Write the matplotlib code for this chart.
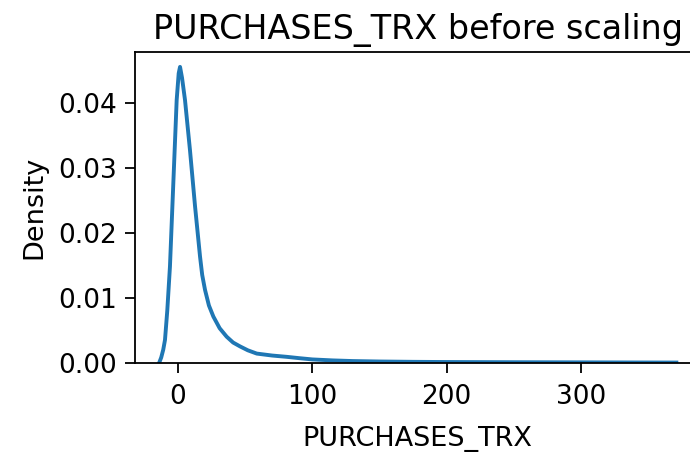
import numpy as np
import matplotlib
matplotlib.use("Agg")
import matplotlib.pyplot as plt

# KDE curve of PURCHASES_TRX
trx = [-14, -12.5, -11, -9.7, -8, -6, -3.5, -1, 0.5, 1.5, 3, 5.2, 8.9, 12.7,
       16.4, 18, 20.1, 23, 26.3, 31, 36.2, 41, 46.2, 52, 58.6, 70, 80.9, 90,
       100, 115, 130, 150, 175, 200, 250, 300, 340, 371]
density = [0.0, 0.0008, 0.002, 0.0035, 0.008, 0.0148, 0.0276, 0.0404, 0.0445,
           0.0455, 0.0438, 0.0404, 0.0327, 0.024, 0.0163, 0.0135, 0.0112,
           0.0088, 0.0071, 0.0053, 0.004, 0.0031, 0.0025, 0.0019, 0.0014,
           0.0011, 0.0009, 0.0007, 0.0005, 0.00035, 0.00025, 0.00018, 0.00013,
           0.0001, 0.00007, 0.00005, 0.00003, 0.00002]

fig = plt.figure(figsize=(6.9, 4.55), dpi=100)
ax = fig.add_axes([0.1957, 0.2029, 0.819, 0.683])
ax.plot(trx, density, color="#1f77b4", linewidth=2.8)

ax.set_xlim(-32, 388.7)
ax.set_ylim(0, 0.0478)
ax.set_xticks([0, 100, 200, 300])
ax.set_yticks([0.0, 0.01, 0.02, 0.03, 0.04])
ax.set_yticklabels(["0.00", "0.01", "0.02", "0.03", "0.04"])
ax.tick_params(labelsize=19, length=7, width=1.3, pad=6)
ax.tick_params(axis="x", pad=8)
for s in ax.spines.values():
    s.set_linewidth(1.3)

ax.set_xlabel("PURCHASES_TRX", fontsize=19.5, labelpad=12)
ax.set_ylabel("Density", fontsize=19.5, labelpad=8)
ax.set_title("PURCHASES_TRX before scaling", fontsize=24, pad=9)

fig.savefig("out.png", dpi=100)
